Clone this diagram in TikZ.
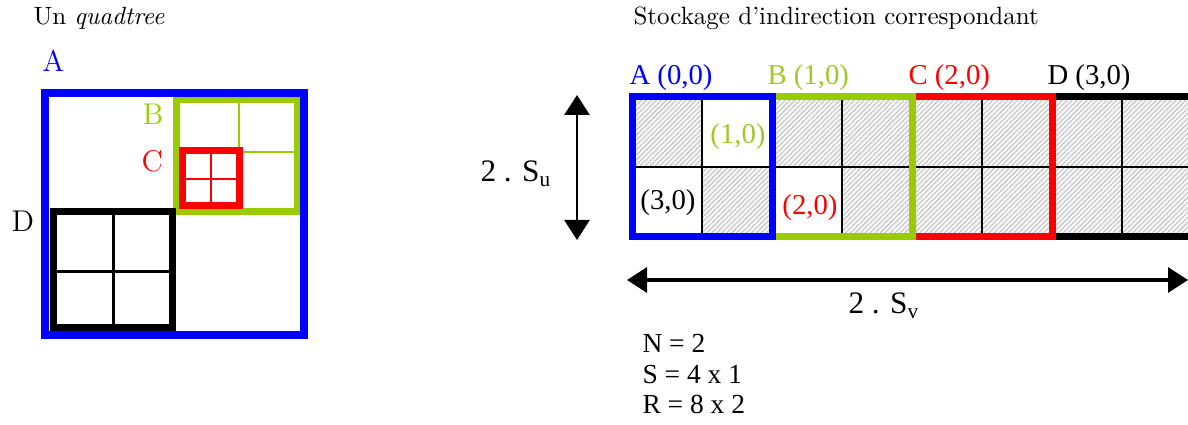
\documentclass[tikz,border=0pt]{standalone}
\usepackage{fontspec}
\newfontfamily\tnr{Liberation Serif}
\usetikzlibrary{patterns.meta,arrows.meta}
\definecolor{qblue}{RGB}{0,0,255}
\definecolor{qgreen}{RGB}{153,204,0}
\definecolor{qgreentxt}{RGB}{160,200,40}
\definecolor{qred}{RGB}{255,0,0}
\newcommand{\subs}[1]{\raisebox{-0.3ex}{\fontsize{8.5}{8.5}\selectfont #1}}
\begin{document}
\begin{tikzpicture}[x=0.4pt,y=-0.4pt,
  lbl/.style={inner sep=0pt, anchor=base west},
  cmtxt/.style={font=\fontsize{10}{12}\selectfont},
  cmbig/.style={font=\fontsize{12}{14}\selectfont},
  tnrtxt/.style={font=\tnr\fontsize{11.5}{13}\selectfont},
  celltxt/.style={inner sep=0pt, anchor=center, font=\tnr\fontsize{11.5}{13}\selectfont},
  hatch/.style={fill=gray!8, postaction={pattern={Lines[angle=45,distance=1.4pt,line width=0.3pt]}, pattern color=gray!55}},
  gridline/.style={line width=0.8pt},
  border/.style={line width=2.8pt},
  dimarrow/.style={line width=1.1pt, {Triangle[length=8pt,width=10pt]}-{Triangle[length=8pt,width=10pt]}}
]
\useasboundingbox (0,0) rectangle (1188,425);

% ---------- titles
\node[lbl,cmtxt] (t1) at (33,25) {Un \textit{quadtree}};
\node[lbl,cmtxt] (t2) at (633,25) {Stockage d'indirection correspondant};

% ---------- left quadtree
\draw[qgreen, line width=0.9pt] (239,100) -- (239,212) (176,152) -- (297,152);
\draw[qgreen, line width=2.8pt] (176,100) rectangle (297,212);
\draw[qred, line width=1pt] (211,151) -- (211,206) (182,179) -- (239,179);
\draw[qred, line width=2.8pt] (182,151) rectangle (239,206);
\draw[black, line width=1.2pt] (113,212) -- (113,328) (53,272) -- (172,272);
\draw[black, line width=2.8pt] (53,212) rectangle (172,328);
\draw[qblue, line width=3.2pt] (45,93) rectangle (304,335);

\node[lbl,cmbig,text=qblue] (la) at (42,72) {A};
\node[lbl,cmbig,text=qgreen] (lb) at (142,125) {B};
\node[lbl,cmbig,text=qred] (lc) at (141,172) {C};
\node[lbl,cmbig] (ld) at (11,232) {D};

% ---------- right indirection storage
\foreach \c/\r in {0/0,2/0,3/0,4/0,5/0,6/0,7/0,1/1,3/1,4/1,5/1,6/1,7/1}{
  \path[hatch] ({632+70*\c},{97+70*\r}) rectangle ({702+70*\c},{167+70*\r});
}
\foreach \x in {702,842,982,1122}{
  \draw[gridline] (\x,97) -- (\x,237);
}
\draw[gridline] (632,167) -- (1192,167);
\draw[border,black] (1052,97) rectangle (1192,237);
\draw[border,qred] (912,97) rectangle (1052,237);
\draw[border,qgreen] (772,97) rectangle (912,237);
\draw[border,qblue] (632,97) rectangle (772,237);

\node[lbl,tnrtxt,text=qblue] (ra) at (629,85) {A (0,0)};
\node[lbl,tnrtxt,text=qgreentxt] (rb) at (767,85) {B (1,0)};
\node[lbl,tnrtxt,text=qred] (rc) at (908,85) {C (2,0)};
\node[lbl,tnrtxt] (rd) at (1047,85) {D (3,0)};

\node[celltxt,text=qgreentxt] (c10) at (738,137) {(1,0)};
\node[celltxt] (c30) at (668,203) {(3,0)};
\node[celltxt,text=qred] (c20) at (810,208) {(2,0)};

% ---------- dimensions
\coordinate (su1) at (577,95);
\coordinate (su2) at (577,240);
\draw[dimarrow] (su1) -- (su2);
\node[lbl,font=\tnr\fontsize{12.5}{14}\selectfont] (su) at (480,182) {2 . S\subs{u}};

\coordinate (sv1) at (627,280);
\coordinate (sv2) at (1188,280);
\draw[dimarrow, line width=1.3pt] (sv1) -- (sv2);
\node[lbl,font=\tnr\fontsize{12.5}{14}\selectfont] (sv) at (848,314) {2 . S\subs{v}};

% ---------- parameters
\node[lbl,font=\tnr\fontsize{11}{13}\selectfont] (pn) at (642,353) {N = 2};
\node[lbl,font=\tnr\fontsize{11}{13}\selectfont] (ps) at (642,384) {S = 4 x 1};
\node[lbl,font=\tnr\fontsize{11}{13}\selectfont] (pr) at (642,414) {R = 8 x 2};
\end{tikzpicture}
\end{document}
